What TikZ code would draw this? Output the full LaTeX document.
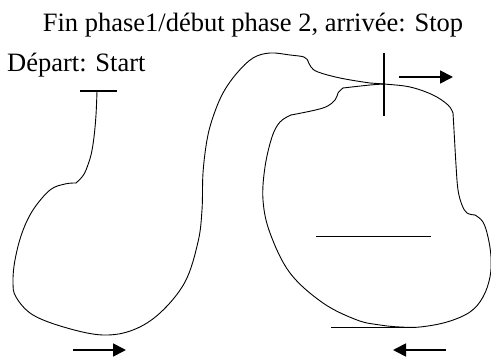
\documentclass[tikz,border=0pt]{standalone}
\usepackage{fontspec}
\setmainfont{Liberation Serif}
\usetikzlibrary{arrows.meta}
\begin{document}
\begin{tikzpicture}[x=1pt,y=-1pt,
  curve/.style={line width=0.9pt, line join=round, line cap=round},
  bar/.style={line width=2.4pt},
  thin/.style={line width=0.9pt},
  dirarrow/.style={line width=1.8pt, -{Triangle[length=13pt,width=13pt]}},
  lbl/.style={inner sep=0pt, font=\fontsize{26.5}{30}\selectfont}]
\useasboundingbox (0,0) rectangle (491,358);
% texts
\node[lbl, anchor=base] (title) at (253,32) {Fin phase1/début phase 2, arrivée: Stop};
\node[lbl, anchor=base west] (depart) at (7,72) {Départ: Start};
% start bar
\draw[bar] (80,91) -- (117,91);
% stop cross
\draw[bar] (384,53) -- (384,116);
% path
\draw[curve] plot[smooth, tension=0.6] coordinates {(97,91) (96,115) (94,137) (91,155) (86,170) (82,177) (76,183)};
\draw[curve] plot[smooth, tension=0.6] coordinates {(76,183) (65,184) (50,190) (33,210) (22,233) (15,260) (13,282) (16,297) (33,315) (67,328) (103,335) (133,330) (160,313) (185,282) (198,242) (202,210) (203,173) (207,140) (213,117) (223,93) (237,73) (253,58) (270,53) (290,55) (304,57) (308,61)};
\draw[curve] plot[smooth, tension=0.6] coordinates {(308,61) (311,67) (318,72) (340,78) (370,83) (384,84) (410,87) (433,95) (448,105) (453,113)};
\draw[curve] plot[smooth, tension=0.6] coordinates {(453,113) (454,130) (456,165) (458,190) (462,205) (467,213) (475,215)};
\draw[curve] plot[smooth, tension=0.6] coordinates {(475,215) (483,222) (488,237) (491,257) (490,277) (483,297) (470,312) (447,322) (420,327) (400,327) (380,325) (357,320) (323,303) (290,273) (270,233) (263,200) (265,167) (272,137) (280,122) (291,115)};
\draw[curve] plot[smooth, tension=0.6] coordinates {(291,115) (323,108) (335,100) (338,93) (343,88)};
\draw[curve] plot[smooth, tension=0.6] coordinates {(343,88) (370,85) (384,84)};
% lines
\draw[thin] (316,236) -- (431,236);
\draw[thin] (331,327) -- (407,327);
% arrows
\coordinate (a1s) at (399,77); \coordinate (a1e) at (453,77);
\coordinate (a2s) at (73,350); \coordinate (a2e) at (126,350);
\coordinate (a3s) at (446,350); \coordinate (a3e) at (393,350);
\draw[dirarrow] (a1s) -- (a1e);
\draw[dirarrow] (a2s) -- (a2e);
\draw[dirarrow] (a3s) -- (a3e);
\end{tikzpicture}
\end{document}
